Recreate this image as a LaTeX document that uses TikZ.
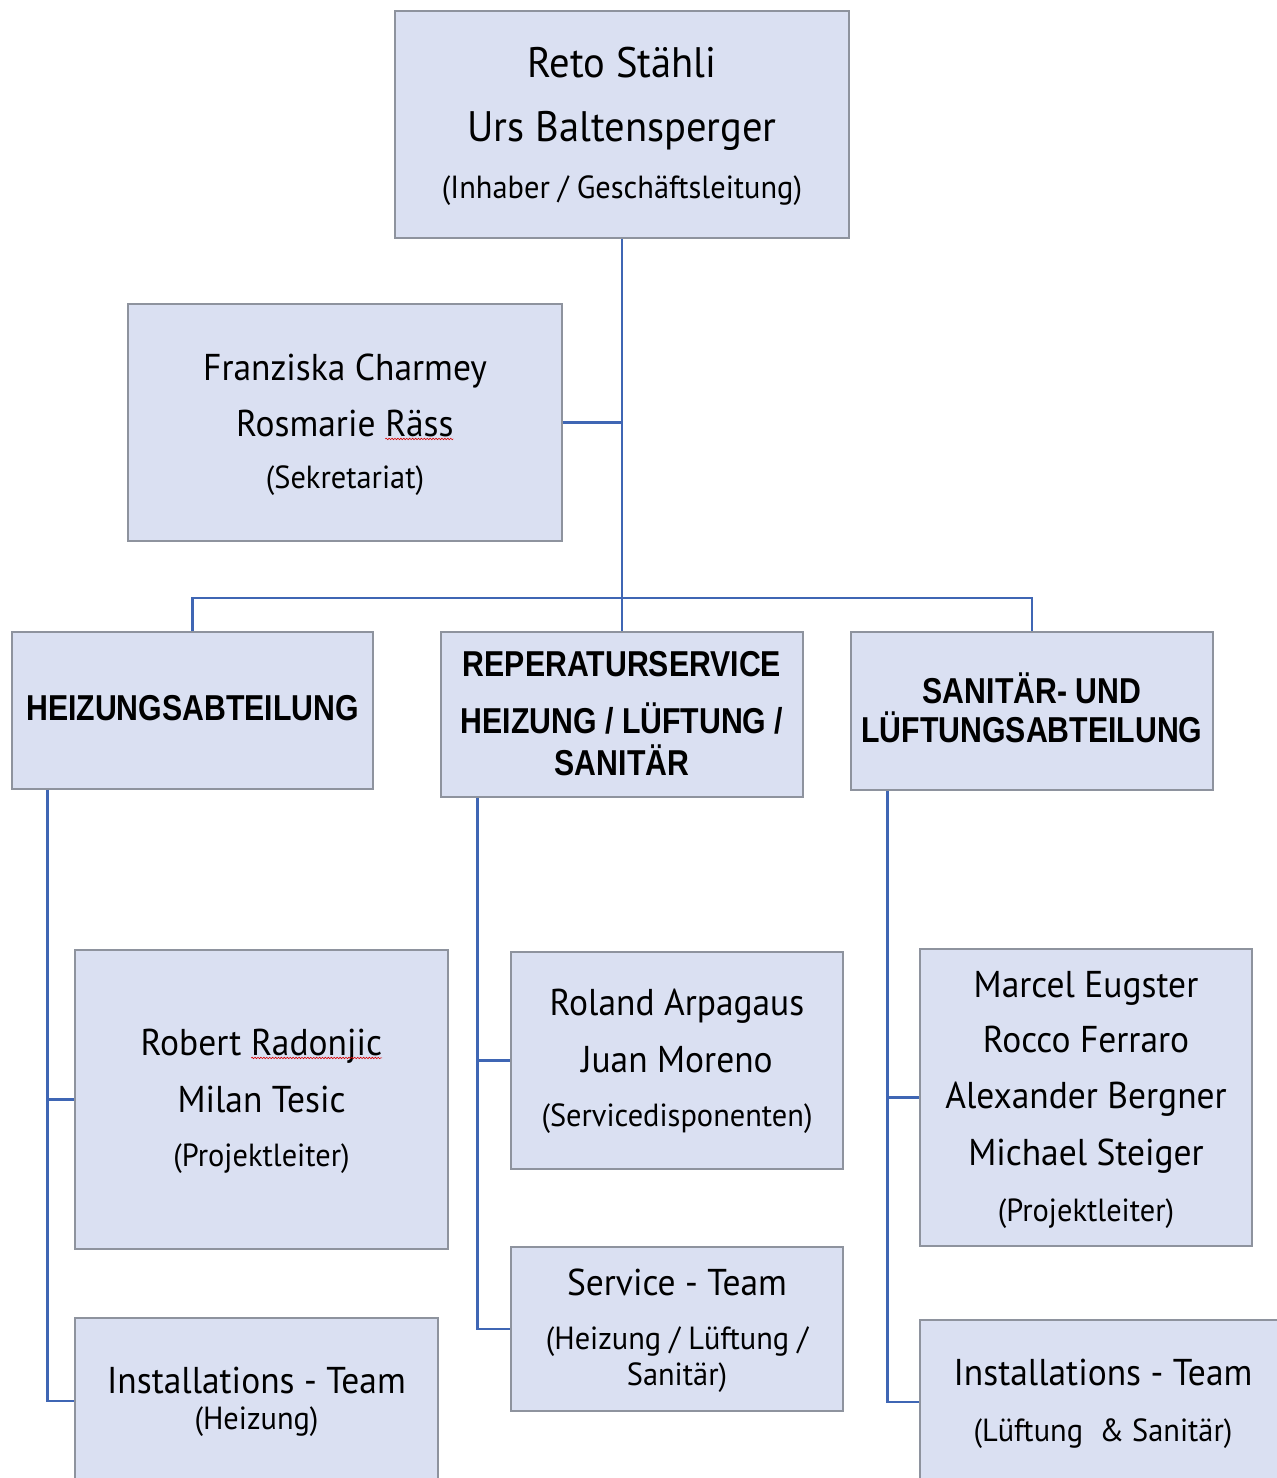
\documentclass[tikz,border=0pt]{standalone}
\usepackage{fontspec}
\usetikzlibrary{calc,decorations.pathmorphing}
\newfontfamily\rf[FakeStretch=0.95]{PT Sans}
\newfontfamily\hf[FakeStretch=0.84]{Liberation Sans}
\definecolor{boxfill}{HTML}{DAE0F2}
\definecolor{boxline}{HTML}{8E939E}
\definecolor{connblue}{HTML}{3F66B4}
\newcommand\spellwave[1]{\tikz[baseline=(spw.base),x=1pt,y=1pt]{\node[inner sep=0pt,outer sep=0pt,anchor=base] (spw) at (0,0) {#1};
  \draw[red!85!black, line width=0.45pt, decorate, decoration={snake, amplitude=0.55pt, segment length=2.2pt}] ([yshift=-2.2pt]spw.base west) -- ([yshift=-2.2pt]spw.base east);}}
\begin{document}
\begin{tikzpicture}[x=0.75pt,y=-0.75pt,
  orgbox/.style 2 args={draw=boxline, fill=boxfill, line width=0.9pt, inner sep=0pt,
    minimum width=#1*0.75pt, minimum height=#2*0.75pt},
  conn/.style={draw=connblue, line width=2pt},
  bigname/.style={font=\rf\fontsize{32}{35}\selectfont, anchor=base, inner sep=0pt},
  pname/.style={font=\rf\fontsize{28}{31}\selectfont, anchor=base, inner sep=0pt},
  paren/.style={font=\rf\fontsize{24}{27}\selectfont, anchor=base, inner sep=0pt},
  headtxt/.style={font=\hf\bfseries\fontsize{27}{30}\selectfont, anchor=base, inner sep=0pt}]
\useasboundingbox (0,0) rectangle (1277,1478);
\fill[white] (0,0) rectangle (1277,1478);
\clip (0,0) rectangle (1277,1478);

% boxes
\node[orgbox={454}{227}] (top) at (622,124.5) {};
\node[orgbox={434}{237}] (sek) at (345,422.5) {};
\node[orgbox={361}{157}] (heiz) at (192.5,710.5) {};
\node[orgbox={362}{165}] (rep) at (622,714.5) {};
\node[orgbox={362}{158}] (san) at (1032,711) {};
\node[orgbox={373}{299}] (rob) at (261.5,1099.5) {};
\node[orgbox={363}{166}] (inst1) at (256.5,1401) {};
\node[orgbox={332}{217}] (rol) at (677,1060.5) {};
\node[orgbox={332}{164}] (serv) at (677,1329) {};
\node[orgbox={332}{297}] (marc) at (1086,1097.5) {};
\node[orgbox={370}{164}] (inst2) at (1105,1402) {};

% texts
\node[bigname] (top1) at (622,77) {Reto Stähli};
\node[bigname] (top2) at (622,141) {Urs Baltensperger};
\node[paren]   (top3) at (622,198) {(Inhaber / Geschäftsleitung)};

\node[pname] (sek1) at (345,380) {Franziska Charmey};
\node[pname] (sek2) at (345,436) {Rosmarie \spellwave{Räss}};
\node[paren] (sek3) at (345,488) {(Sekretariat)};

\node[headtxt] (heiz1) at (192.5,720) {HEIZUNGSABTEILUNG};

\node[headtxt] (rep1) at (622,676) {REPERATURSERVICE};
\node[headtxt] (rep2) at (622,733) {HEIZUNG {}/ LÜFTUNG {}/};
\node[headtxt] (rep3) at (622,775) {SANITÄR};

\node[headtxt] (san1) at (1032,703) {SANITÄR- UND};
\node[headtxt] (san2) at (1032,742) {LÜFTUNGSABTEILUNG};

\node[pname] (rob1) at (261.5,1055) {Robert \spellwave{Radonjic}};
\node[pname] (rob2) at (261.5,1112) {Milan Tesic};
\node[paren] (rob3) at (261.5,1166) {(Projektleiter)};

\node[pname] (inst1a) at (256.5,1393) {Installations - Team};
\node[paren] (inst1b) at (256.5,1429) {(Heizung)};

\node[pname] (rol1) at (677,1015) {Roland Arpagaus};
\node[pname] (rol2) at (677,1072) {Juan Moreno};
\node[paren] (rol3) at (677,1126) {(Servicedisponenten)};

\node[pname] (serv1) at (677,1295) {Service - Team};
\node[paren] (serv2) at (677,1349) {(Heizung / Lüftung /};
\node[paren] (serv3) at (677,1385) {Sanitär)};

\node[pname] (marc1) at (1086,997) {Marcel Eugster};
\node[pname] (marc2) at (1086,1052) {Rocco Ferraro};
\node[pname] (marc3) at (1086,1108) {Alexander Bergner};
\node[pname] (marc4) at (1086,1165) {Michael Steiger};
\node[paren] (marc5) at (1086,1221) {(Projektleiter)};

\node[pname] (inst2a) at (1103,1385) {Installations - Team};
\node[paren] (inst2b) at (1103,1441) {(Lüftung \ \& Sanitär)};

% connectors
\coordinate (bus) at (622,598);
\draw[conn] (top.south) -- (rep.north);
\draw[conn] (sek.east) -- (sek.east -| top.south);
\draw[conn] (heiz.north) |- (bus) -| (san.north);

\coordinate (hL) at ($(heiz.south west)+(36,0)$);
\draw[conn] (hL) |- (inst1.west);
\draw[conn] (hL |- rob.west) -- (rob.west);

\coordinate (rL) at ($(rep.south west)+(37,0)$);
\draw[conn] (rL) |- (serv.west);
\draw[conn] (rL |- rol.west) -- (rol.west);

\coordinate (sL) at ($(san.south west)+(37,0)$);
\draw[conn] (sL) |- (inst2.west);
\draw[conn] (sL |- marc.west) -- (marc.west);
\end{tikzpicture}
\end{document}
